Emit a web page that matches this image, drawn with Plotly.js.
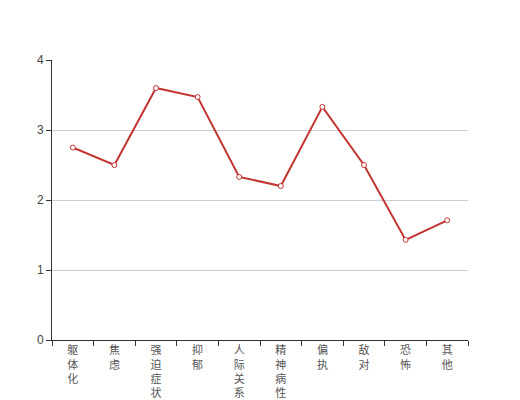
<!DOCTYPE html>
<html><head><meta charset="utf-8">
<script src="https://cdn.plot.ly/plotly-3.0.1.min.js"></script>
<style>html,body{margin:0;padding:0;background:#fff}#chart{width:520px;height:400px}</style>
</head><body><div id="chart"></div>
<script>
const categories = ["躯体化","焦虑","强迫症状","抑郁","人际关系敏感","精神病性","偏执","敌对","恐怖","其他"];
const values = [2.75, 2.5, 3.6, 3.47, 2.33, 2.2, 3.33, 2.5, 1.43, 1.71];
const yTicks = [0, 1, 2, 3, 4];

const tickText = categories.map(c => c.split("").join("<br>"));

Plotly.newPlot("chart", [{
  type: "scatter", mode: "lines+markers",
  x: categories, y: values,
  line: {color: "#c23531", width: 2},
  marker: {symbol: "circle", size: 5, color: "#ffffff", line: {color: "#c23531", width: 1}},
  hoverinfo: "x+y"
}], {
  width: 520, height: 400,
  margin: {l: 52, r: 52, t: 60, b: 60},
  paper_bgcolor: "#fff", plot_bgcolor: "#fff",
  showlegend: false,
  font: {family: "'Noto Sans CJK SC', 'DejaVu Sans', sans-serif", color: "#333"},
  xaxis: {
    type: "category", categoryorder: "array", categoryarray: categories,
    tickvals: categories, ticktext: tickText,
    range: [-0.5, 9.5], showgrid: false, zeroline: false,
    showline: true, linecolor: "#333", linewidth: 1,
    ticks: "outside", tickson: "boundaries", ticklen: 5, tickcolor: "#333",
    tickfont: {size: 11, color: "#555", family: "'Noto Sans CJK SC', sans-serif"},
    tickangle: 0
  },
  yaxis: {
    range: [0, 4], tickvals: yTicks, ticktext: yTicks.map(String),
    showgrid: true, gridcolor: "#ccc", gridwidth: 1, zeroline: false,
    showline: true, linecolor: "#333", linewidth: 1,
    ticks: "outside", ticklen: 5, tickcolor: "#333",
    tickfont: {size: 12, color: "#444", family: "'Liberation Sans', sans-serif"}
  }
}, {displayModeBar: false, staticPlot: true});
</script></body></html>
